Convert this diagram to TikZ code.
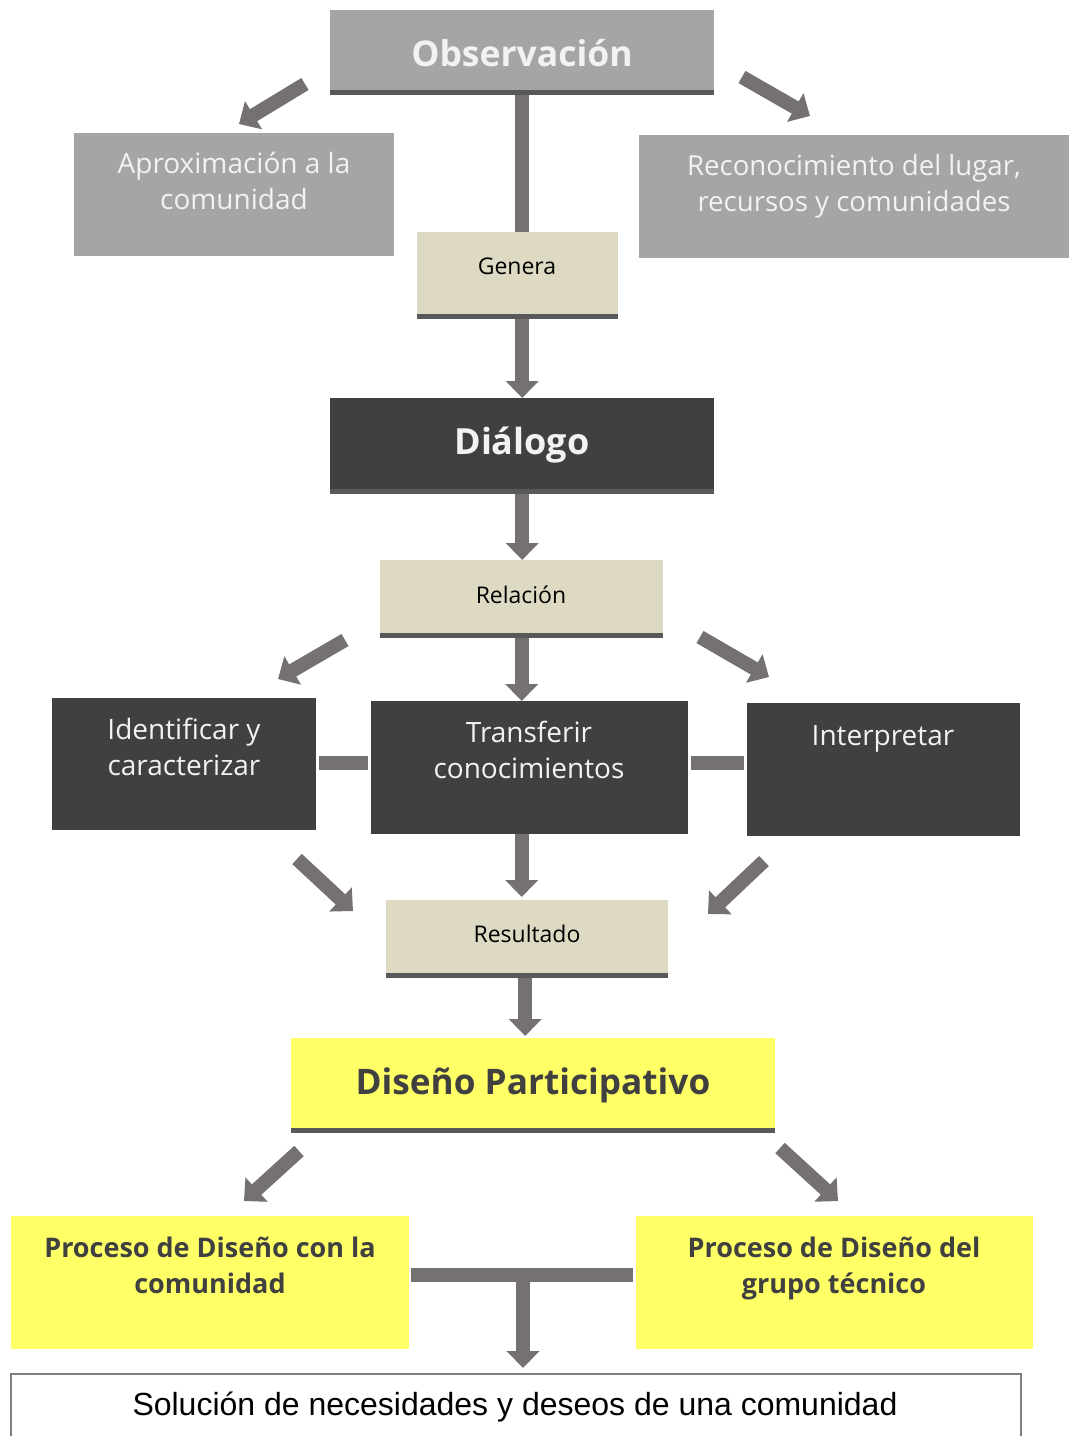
\documentclass[tikz,border=0pt]{standalone}
\usepackage{fontspec}
\setmainfont{Open Sans}
\newfontfamily\arialf{Liberation Sans}
\usetikzlibrary{arrows.meta}
\definecolor{lgray}{HTML}{A5A5A5}
\definecolor{dgray}{HTML}{404040}
\definecolor{beige}{HTML}{DDD9C3}
\definecolor{yel}{HTML}{FFFF66}
\definecolor{arr}{HTML}{767171}
\definecolor{bord}{HTML}{595959}
\definecolor{wtxt}{HTML}{F2F2F2}
\tikzset{
  bx/.style={rectangle, inner sep=0pt, anchor=north west},
  lbox/.style={bx, fill=lgray},
  dbox/.style={bx, fill=dgray},
  bbox/.style={bx, fill=beige},
  ybox/.style={bx, fill=yel},
  bline/.style={draw=bord, line width=5pt},
  conn/.style={draw=arr, line width=14pt},
  barr/.style={draw=arr, line width=14pt, -{Triangle[width=32pt,length=17pt]}},
  wt/.style={text=wtxt, align=center, inner sep=0pt},
  bt/.style={text=black, align=center, inner sep=0pt},
  yt/.style={text=dgray, align=center, inner sep=0pt, font=\fontsize{27}{36}\selectfont\bfseries},
}
\begin{document}
\begin{tikzpicture}[x=1pt,y=-1pt]
\useasboundingbox (0,0) rectangle (1069,1436);
% boxes
\node[lbox, minimum width=384pt, minimum height=85pt] (obs) at (330,10) {};
\node[lbox, minimum width=320pt, minimum height=123pt] (apr) at (74,133) {};
\node[lbox, minimum width=430pt, minimum height=123pt] (rec) at (639,135) {};
\node[bbox, minimum width=201pt, minimum height=87pt] (gen) at (417,232) {};
\node[dbox, minimum width=384pt, minimum height=96pt] (dia) at (330,398) {};
\node[bbox, minimum width=283pt, minimum height=78pt] (rel) at (380,560) {};
\node[dbox, minimum width=264pt, minimum height=132pt] (ide) at (52,698) {};
\node[dbox, minimum width=317pt, minimum height=133pt] (tra) at (371,701) {};
\node[dbox, minimum width=273pt, minimum height=133pt] (int) at (747,703) {};
\node[bbox, minimum width=282pt, minimum height=78pt] (res) at (386,900) {};
\node[ybox, minimum width=484pt, minimum height=95pt] (dis) at (291,1038) {};
\node[ybox, minimum width=398pt, minimum height=133pt] (pl) at (11,1216) {};
\node[ybox, minimum width=397pt, minimum height=133pt] (pr) at (636,1216) {};
\node[bx, draw=gray, line width=1.5pt, fill=white, minimum width=1010pt, minimum height=80pt] (sol) at (10,1373) {};
% bottom borders
\foreach \n in {obs,gen,dia,rel,res,dis}
  \draw[bline] ([yshift=2.5pt]\n.south west) -- ([yshift=2.5pt]\n.south east);
% texts
\node[wt, font=\fontsize{35.5}{44}\selectfont\bfseries] (obsT) at (522,53) {Observación};
\node[wt, font=\fontsize{28}{36}\selectfont] (aprT) at (234,181) {Aproximación a la\\comunidad};
\node[wt, font=\fontsize{27.6}{36}\selectfont] (recT) at (854,186) {Reconocimiento del lugar,\\recursos y comunidades};
\node[bt, font=\fontsize{23}{28}\selectfont] (genT) at (517,266) {Genera};
\node[wt, font=\fontsize{36}{44}\selectfont\bfseries] (diaT) at (522,445) {Diálogo};
\node[bt, font=\fontsize{23}{28}\selectfont] (relT) at (521,595) {Relación};
\node[wt, font=\fontsize{28}{36}\selectfont] (ideT) at (184,747) {Identificar y\\caracterizar};
\node[wt, font=\fontsize{28}{36}\selectfont] (traT) at (529,750) {Transferir\\conocimientos};
\node[wt, font=\fontsize{28}{36}\selectfont] (intT) at (883,739) {Interpretar};
\node[bt, font=\fontsize{23}{28}\selectfont] (resT) at (527,934) {Resultado};
\node[yt, font=\fontsize{35.2}{44}\selectfont\bfseries] (disT) at (533,1085) {Diseño Participativo};
\node[yt] (plT) at (210,1265) {Proceso de Diseño con la\\comunidad};
\node[yt] (prT) at (834,1268) {Proceso de Diseño del\\grupo técnico};
\node[bt, font=\arialf\fontsize{32}{38}\selectfont] (solT) at (515,1407) {Solución de necesidades y deseos de una comunidad};
% vertical connectors
\draw[conn] (obs.south) -- (gen.north -| obs.south);
\draw[barr] (gen.south -| dia.north) -- (dia.north);
\draw[barr] (dia.south) -- (dia.south |- rel.north);
\draw[barr] (rel.south) -- (rel.south |- tra.north);
\draw[barr] (rel.south |- tra.south) -- ([yshift=3pt]rel.south |- res.north);
\draw[barr] ([xshift=-2pt]res.south) -- ([xshift=-2pt,yshift=2pt]res.south |- dis.north);
% side bars
\coordinate (hb) at (0,763);
\draw[conn] ([xshift=3pt]ide.east |- hb) -- ([xshift=-3pt]tra.west |- hb);
\draw[conn] ([xshift=3pt]tra.east |- hb) -- ([xshift=-3pt]int.west |- hb);
% diagonal arrows
\coordinate (a1s) at (305,84);  \coordinate (a1e) at (239,124);
\coordinate (a2s) at (742,77);  \coordinate (a2e) at (810,116);
\coordinate (a3s) at (345,640); \coordinate (a3e) at (278,679);
\coordinate (a4s) at (700,637); \coordinate (a4e) at (769,677);
\coordinate (a5s) at (297,859); \coordinate (a5e) at (353,911);
\coordinate (a6s) at (764,861); \coordinate (a6e) at (708,914);
\coordinate (a7s) at (299,1151); \coordinate (a7e) at (244,1201);
\coordinate (a8s) at (780,1148); \coordinate (a8e) at (838,1201);
\foreach \i in {1,...,8} \draw[barr] (a\i s) -- (a\i e);
% T junction
\coordinate (tj) at (523,1275);
\draw[conn] ([xshift=2pt]pl.east |- tj) -- ([xshift=-3pt]pr.west |- tj);
\draw[barr] ([yshift=-7pt]tj) -- ([yshift=5pt]tj |- sol.north);
\end{tikzpicture}
\end{document}
